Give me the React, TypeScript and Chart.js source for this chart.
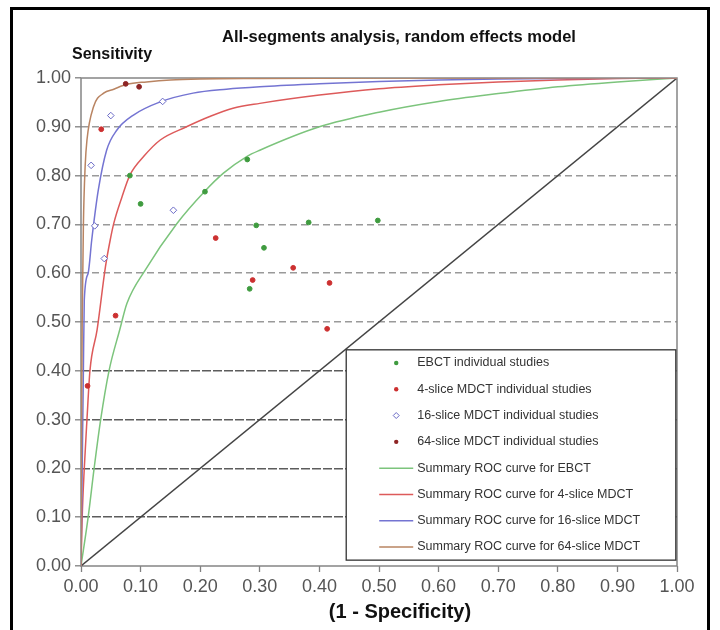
import React, { useEffect, useRef } from 'react';
import { Chart, registerables } from 'chart.js';

Chart.register(...registerables);

// ---------- data (1 - specificity, sensitivity) ----------
const ebctStudies: [number, number][] = [
  [0.082, 0.8], [0.1, 0.742], [0.208, 0.767], [0.279, 0.833], [0.294, 0.698],
  [0.382, 0.704], [0.498, 0.708], [0.307, 0.652], [0.283, 0.568],
];
const mdct4Studies: [number, number][] = [
  [0.226, 0.672], [0.356, 0.611], [0.288, 0.586], [0.417, 0.58], [0.413, 0.486],
  [0.058, 0.513], [0.011, 0.369], [0.034, 0.895],
];
const mdct16Studies: [number, number][] = [
  [0.017, 0.821], [0.023, 0.697], [0.05, 0.923], [0.137, 0.952], [0.155, 0.729], [0.039, 0.63],
];
const mdct64Studies: [number, number][] = [
  [0.075, 0.988], [0.0975, 0.982],
];

const ebctCurve: [number, number][] = [
  [0, 0], [0.012, 0.1], [0.022, 0.2], [0.033, 0.3], [0.047, 0.4], [0.065, 0.484],
  [0.077, 0.538], [0.108, 0.607], [0.161, 0.702], [0.207, 0.767], [0.239, 0.805],
  [0.278, 0.839], [0.3, 0.852], [0.4, 0.9], [0.5, 0.93], [0.6, 0.952], [0.7, 0.968],
  [0.8, 0.982], [0.9, 0.992], [1, 1],
];
const mdct4Curve: [number, number][] = [
  [0, 0], [0.002, 0.1], [0.0055, 0.2], [0.01, 0.3], [0.015, 0.4], [0.027, 0.484],
  [0.041, 0.613], [0.049, 0.668], [0.055, 0.702], [0.069, 0.757], [0.082, 0.801],
  [0.105, 0.839], [0.133, 0.873], [0.177, 0.9], [0.216, 0.921], [0.255, 0.938],
  [0.3, 0.948], [0.4, 0.965], [0.5, 0.978], [0.6, 0.986], [0.7, 0.992], [0.8, 0.996],
  [0.9, 0.999], [1, 1],
];
const mdct16Curve: [number, number][] = [
  [0, 0], [0.002, 0.2], [0.004, 0.4], [0.0055, 0.545], [0.012, 0.6], [0.018, 0.668],
  [0.029, 0.77], [0.043, 0.852], [0.06, 0.893], [0.088, 0.924], [0.133, 0.951],
  [0.188, 0.969], [0.244, 0.977], [0.3, 0.982], [0.4, 0.988], [0.5, 0.993],
  [0.6, 0.996], [0.7, 0.998], [0.8, 0.999], [1, 1],
];
const mdct64Curve: [number, number][] = [
  [0, 0], [0.001, 0.3], [0.002, 0.5], [0.004, 0.698], [0.007, 0.82], [0.01, 0.873],
  [0.021, 0.941], [0.038, 0.969], [0.055, 0.977], [0.077, 0.987], [0.11, 0.992],
  [0.15, 0.996], [0.2, 0.998], [0.3, 0.999], [0.5, 1], [1, 1],
];
const diagonal: [number, number][] = [[0, 0], [1, 1]];

const axisTicks = [0, 0.1, 0.2, 0.3, 0.4, 0.5, 0.6, 0.7, 0.8, 0.9, 1.0];

const chartTitle = 'All-segments analysis, random effects model';
const yTitle = 'Sensitivity';
const xTitle = '(1 - Specificity)';

const legendItems = [
  { label: 'EBCT individual studies', kind: 'dot', color: '#3f9b3f' },
  { label: '4-slice MDCT individual studies', kind: 'dot', color: '#cc3030' },
  { label: '16-slice MDCT individual studies', kind: 'diamond', color: '#6a6ac6' },
  { label: '64-slice MDCT individual studies', kind: 'dot', color: '#8e2424' },
  { label: 'Summary ROC curve for EBCT', kind: 'line', color: '#7cc47c' },
  { label: 'Summary ROC curve for 4-slice MDCT', kind: 'line', color: '#dd5a5a' },
  { label: 'Summary ROC curve for 16-slice MDCT', kind: 'line', color: '#7474d2' },
  { label: 'Summary ROC curve for 64-slice MDCT', kind: 'line', color: '#b98462' },
];

const FONT = '"Liberation Sans", Arial, Helvetica, sans-serif';
const toXY = (arr: [number, number][]) => arr.map(([x, y]) => ({ x, y }));

const decorPlugin = {
  id: 'decor',
  beforeDatasetsDraw(chart: any) {
    const { ctx, chartArea: a } = chart;
    ctx.save();
    ctx.strokeStyle = '#858585';
    ctx.lineWidth = 1.5;
    ctx.strokeRect(a.left, a.top, a.right - a.left, a.bottom - a.top);
    ctx.restore();
  },
  afterDatasetsDraw(chart: any) {
    const { ctx } = chart;
    const xs = chart.scales.x;
    const ys = chart.scales.y;
    const left = xs.getPixelForValue(0.445);
    const right = xs.getPixelForValue(0.998);
    const top = ys.getPixelForValue(0.443);
    const bottom = ys.getPixelForValue(0.012);
    ctx.save();
    ctx.fillStyle = '#ffffff';
    ctx.fillRect(left, top, right - left, bottom - top);
    ctx.strokeStyle = '#333333';
    ctx.lineWidth = 1.3;
    ctx.strokeRect(left, top, right - left, bottom - top);
    const rowH = (bottom - top) / legendItems.length;
    legendItems.forEach((it, i) => {
      const cy = top + rowH * (i + 0.5);
      const mx = left + 50;
      if (it.kind === 'dot') {
        ctx.fillStyle = it.color;
        ctx.beginPath();
        ctx.arc(mx, cy, 2.2, 0, Math.PI * 2);
        ctx.fill();
      } else if (it.kind === 'diamond') {
        ctx.strokeStyle = it.color;
        ctx.lineWidth = 1;
        ctx.beginPath();
        ctx.moveTo(mx, cy - 3);
        ctx.lineTo(mx + 3, cy);
        ctx.lineTo(mx, cy + 3);
        ctx.lineTo(mx - 3, cy);
        ctx.closePath();
        ctx.stroke();
      } else {
        ctx.strokeStyle = it.color;
        ctx.lineWidth = 1.5;
        ctx.beginPath();
        ctx.moveTo(left + 33, cy);
        ctx.lineTo(left + 67, cy);
        ctx.stroke();
      }
      ctx.fillStyle = '#333333';
      ctx.font = `12.5px ${FONT}`;
      ctx.textBaseline = 'middle';
      ctx.textAlign = 'left';
      ctx.fillText(it.label, left + 71, cy);
    });
    ctx.restore();
  },
  afterDraw(chart: any) {
    const { ctx } = chart;
    ctx.save();
    ctx.fillStyle = '#111111';
    ctx.textBaseline = 'alphabetic';
    ctx.font = `bold 16.5px ${FONT}`;
    ctx.textAlign = 'left';
    ctx.fillText(chartTitle, 222, 42);
    ctx.font = `bold 16px ${FONT}`;
    ctx.fillText(yTitle, 72, 59);
    ctx.font = `bold 20px ${FONT}`;
    ctx.textAlign = 'center';
    ctx.fillText(xTitle, 400, 618);
    ctx.restore();
  },
};

export default function App() {
  const ref = useRef<HTMLCanvasElement | null>(null);

  useEffect(() => {
    if (!ref.current) return;
    const pointDs = (label: string, data: [number, number][], color: string, style: any = 'circle') => ({
      label,
      data: toXY(data),
      showLine: false,
      pointStyle: style,
      pointRadius: style === 'rectRot' ? 3.3 : 2.4,
      pointBackgroundColor: style === 'rectRot' ? '#ffffff' : color,
      pointBorderColor: color,
      pointBorderWidth: 1,
      pointHoverRadius: 0,
    });
    const lineDs = (label: string, data: [number, number][], color: string) => ({
      label,
      data: toXY(data),
      showLine: true,
      borderColor: color,
      borderWidth: 1.5,
      pointRadius: 0,
      cubicInterpolationMode: 'monotone',
      fill: false,
    });

    const chart = new Chart(ref.current, {
      type: 'scatter',
      data: {
        datasets: [
          pointDs('EBCT individual studies', ebctStudies, '#3f9b3f'),
          pointDs('4-slice MDCT individual studies', mdct4Studies, '#cc3030'),
          pointDs('16-slice MDCT individual studies', mdct16Studies, '#6a6ac6', 'rectRot'),
          pointDs('64-slice MDCT individual studies', mdct64Studies, '#8e2424'),
          lineDs('Summary ROC curve for 64-slice MDCT', mdct64Curve, '#b98462'),
          lineDs('Summary ROC curve for 16-slice MDCT', mdct16Curve, '#7474d2'),
          lineDs('Summary ROC curve for 4-slice MDCT', mdct4Curve, '#dd5a5a'),
          lineDs('Summary ROC curve for EBCT', ebctCurve, '#7cc47c'),
          {
            label: 'diagonal',
            data: toXY(diagonal),
            showLine: true,
            borderColor: '#444444',
            borderWidth: 1.4,
            pointRadius: 0,
          },
        ] as any,
      },
      options: {
        responsive: false,
        animation: false,
        events: [],
        layout: { padding: { top: 78, right: 43, left: 0, bottom: 0 } },
        plugins: {
          legend: { display: false },
          tooltip: { enabled: false },
          title: { display: false },
        },
        scales: {
          x: {
            type: 'linear',
            min: 0,
            max: 1,
            afterFit: (s: any) => { s.height = 64; },
            afterBuildTicks: (s: any) => { s.ticks = axisTicks.map((v) => ({ value: v })); },
            ticks: {
              callback: (v: any) => Number(v).toFixed(2),
              font: { family: FONT, size: 18 },
              color: '#555555',
              padding: 4,
              maxRotation: 0,
              autoSkip: false,
            },
            grid: {
              drawOnChartArea: false,
              drawTicks: true,
              tickLength: 6,
              tickColor: '#808080',
              tickWidth: 1.3,
            },
            border: { display: false },
          },
          y: {
            type: 'linear',
            min: 0,
            max: 1,
            afterFit: (s: any) => { s.width = 81; },
            afterBuildTicks: (s: any) => { s.ticks = axisTicks.map((v) => ({ value: v })); },
            ticks: {
              callback: (v: any) => Number(v).toFixed(2),
              font: { family: FONT, size: 18 },
              color: '#555555',
              padding: 4,
              autoSkip: false,
            },
            grid: {
              drawTicks: true,
              tickLength: 6,
              tickColor: '#808080',
              tickWidth: 1.3,
              lineWidth: 1.6,
              color: (c: any) => {
                const v = c.tick ? c.tick.value : 0;
                if (v < 0.05 || v > 0.95) return 'rgba(0,0,0,0)';
                return v < 0.45 ? '#5c5c5c' : '#9a9a9a';
              },
            },
            border: {
              display: false,
              dash: (c: any) => {
                const v = c.tick ? c.tick.value : 0;
                return v < 0.45 ? [9, 2] : [7, 4];
              },
            },
          },
        },
      } as any,
      plugins: [decorPlugin],
    });
    return () => chart.destroy();
  }, []);

  return (
    <div style={{ position: 'absolute', left: 0, top: 0, width: 720, height: 630, overflow: 'hidden', background: '#fff' }}>
      <canvas ref={ref} width={720} height={630} style={{ position: 'absolute', left: 0, top: 0 }} />
      <div
        style={{
          position: 'absolute',
          left: 10,
          top: 7,
          width: 694,
          height: 640,
          border: '3px solid #000',
          pointerEvents: 'none',
        }}
      />
    </div>
  );
}
